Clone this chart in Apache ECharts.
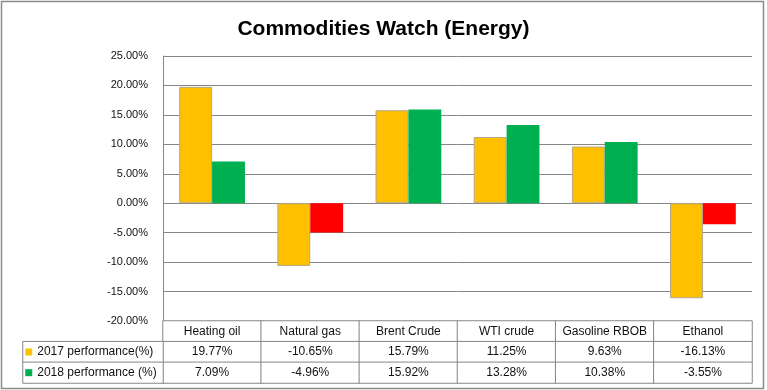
<!DOCTYPE html>
<html>
<head>
<meta charset="utf-8">
<script src="https://cdn.jsdelivr.net/npm/echarts@6/dist/echarts.min.js"></script>
<style>
html,body{margin:0;padding:0;background:#fff;}
#c{width:767px;height:390px;}
</style>
</head>
<body>
<div id="c"></div>
<script>
var categories = ['Heating oil', 'Natural gas', 'Brent Crude', 'WTI crude', 'Gasoline RBOB', 'Ethanol'];
var perf2017 = [19.77, -10.65, 15.79, 11.25, 9.63, -16.13];
var perf2018 = [7.09, -4.96, 15.92, 13.28, 10.38, -3.55];
var seriesNames = ['2017 performance(%)', '2018 performance (%)'];
var seriesColors = ['#FFC000', '#00B050'];
var negativeColor2018 = '#FF0000';
var yMin = -20, yMax = 25, yStep = 5;
var tableRows = ['header', '2017', '2018'];

var FONT = 'Liberation Sans';
var GRID_LINE = '#868686';
var TEXT = '#111';

function pct(v) { return v.toFixed(2) + '%'; }

var tableData = [];
categories.forEach(function (c, i) {
  tableData.push([i, 0, 0]);
  tableData.push([i, 1, perf2017[i]]);
  tableData.push([i, 2, perf2018[i]]);
});

var chart = echarts.init(document.getElementById('c'));
chart.setOption({
  animation: false,
  title: {
    text: 'Commodities Watch (Energy)',
    left: 'center',
    top: 14,
    textStyle: { fontFamily: FONT, fontWeight: 'bold', fontSize: 21, color: '#000' }
  },
  grid: [
    { left: 163, right: 15, top: 56, bottom: 69 },
    { left: 163, right: 15, top: 321, height: 62 },
    { left: 23, width: 140, top: 321, height: 62 }
  ],
  xAxis: [
    { type: 'category', gridIndex: 0, data: categories, axisLine: { show: false }, axisTick: { show: false }, axisLabel: { show: false } },
    { type: 'category', gridIndex: 1, data: categories, show: false },
    { type: 'category', gridIndex: 2, data: ['legend'], show: false }
  ],
  yAxis: [
    {
      type: 'value', gridIndex: 0, min: yMin, max: yMax, interval: yStep,
      axisLine: { show: true, lineStyle: { color: GRID_LINE } },
      axisTick: { show: false },
      axisLabel: { formatter: function (v) { return pct(v); }, fontFamily: FONT, fontSize: 11, color: TEXT, margin: 15 },
      splitLine: { lineStyle: { color: GRID_LINE } }
    },
    { type: 'category', gridIndex: 1, data: tableRows, inverse: true, show: false },
    { type: 'category', gridIndex: 2, data: tableRows, inverse: true, show: false }
  ],
  series: [
    {
      name: seriesNames[0], type: 'bar', xAxisIndex: 0, yAxisIndex: 0,
      data: perf2017,
      barCategoryGap: '33%', barGap: '0%',
      itemStyle: { color: seriesColors[0], borderColor: '#b3a88a', borderWidth: 1 },
      emphasis: { disabled: true }
    },
    {
      name: seriesNames[1], type: 'bar', xAxisIndex: 0, yAxisIndex: 0,
      data: perf2018.map(function (v) {
        return { value: v, itemStyle: { color: v < 0 ? negativeColor2018 : seriesColors[1] } };
      }),
      barCategoryGap: '33%', barGap: '0%',
      emphasis: { disabled: true }
    },
    {
      type: 'heatmap', xAxisIndex: 1, yAxisIndex: 1,
      data: tableData,
      itemStyle: { color: '#fff', borderColor: GRID_LINE, borderWidth: 1 },
      label: {
        show: true, fontFamily: FONT, fontSize: 12, color: TEXT,
        formatter: function (p) {
          var r = p.data[1];
          if (r === 0) return categories[p.data[0]];
          return pct(p.data[2]);
        }
      },
      emphasis: { disabled: true }
    },
    {
      type: 'heatmap', xAxisIndex: 2, yAxisIndex: 2,
      data: [[0, 1, 0], [0, 2, 1]],
      itemStyle: { color: '#fff', borderColor: GRID_LINE, borderWidth: 1 },
      label: {
        show: true, position: 'insideLeft', distance: 3,
        fontFamily: FONT, fontSize: 12, color: TEXT,
        formatter: function (p) {
          return '{s' + p.data[2] + '|}{g|}' + seriesNames[p.data[2]];
        },
        rich: {
          s0: { width: 7, height: 7, backgroundColor: seriesColors[0] },
          s1: { width: 7, height: 7, backgroundColor: seriesColors[1] },
          g: { width: 5 }
        }
      },
      emphasis: { disabled: true }
    }
  ],
  graphic: [
    { type: 'rect', shape: { x: 1.5, y: 1.5, width: 762, height: 387 }, style: { fill: null, stroke: '#8a8a8a', lineWidth: 1.5 }, silent: true }
  ]
});
</script>
</body>
</html>
